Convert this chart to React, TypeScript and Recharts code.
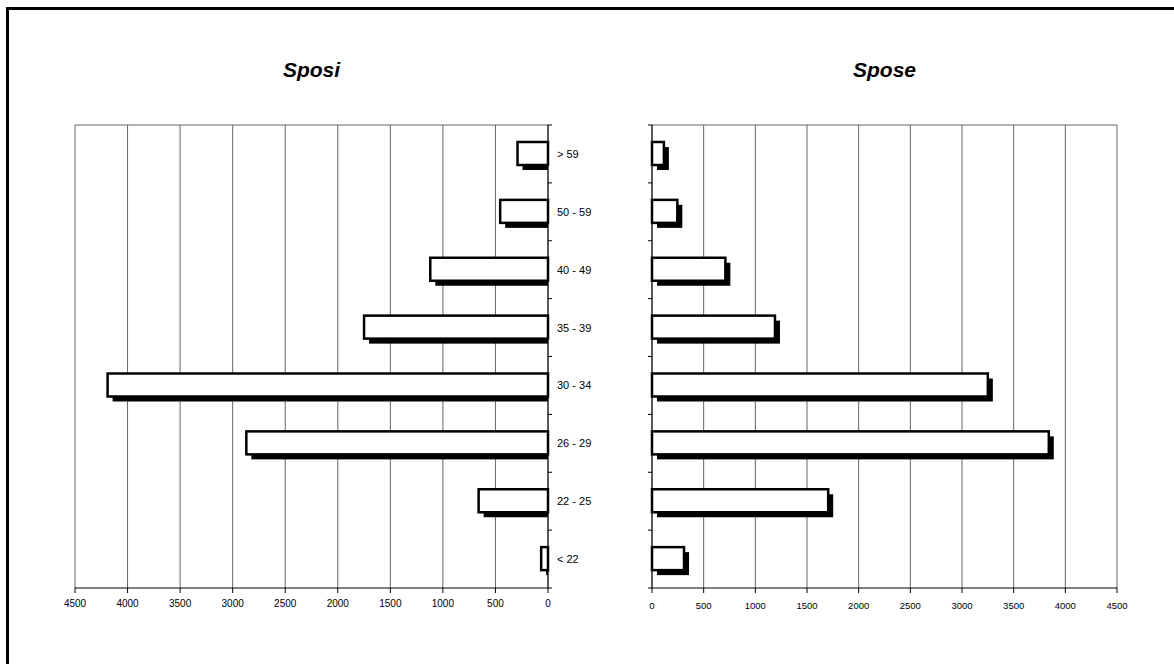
import { BarChart, Bar, XAxis, YAxis, CartesianGrid } from 'recharts';

// age groups, top to bottom
const ageGroups = ['> 59', '50 - 59', '40 - 49', '35 - 39', '30 - 34', '26 - 29', '22 - 25', '< 22'];
const sposiValues = [290, 455, 1120, 1750, 4190, 2870, 660, 65];
const sposeValues = [115, 245, 710, 1190, 3250, 3840, 1705, 310];
const xTicks = [0, 500, 1000, 1500, 2000, 2500, 3000, 3500, 4000, 4500];

const data = ageGroups.map((age, i) => ({ age, sposi: sposiValues[i], spose: sposeValues[i] }));

const FONT = '"Liberation Sans", Arial, sans-serif';
const PLOT_TOP = 125;
const PLOT_BOTTOM = 588;
const BAND = (PLOT_BOTTOM - PLOT_TOP) / ageGroups.length;
const SHADOW = 5;

const makeBarShape = (side: 'left' | 'right') => (props: any) => {
  const { x, y, width, height } = props;
  const x0 = Math.min(x, x + width);
  const w = Math.abs(width);
  const shadow =
    side === 'left' ? (
      <rect x={x0 + SHADOW} y={y + SHADOW} width={Math.max(w - SHADOW, 0)} height={height} fill="#000" />
    ) : (
      <rect x={x0 + SHADOW} y={y + SHADOW} width={w} height={height} fill="#000" />
    );
  return (
    <g>
      {shadow}
      <rect x={x0} y={y} width={w} height={height} fill="#fff" stroke="#000" strokeWidth={2.5} />
    </g>
  );
};

const makeYTick = (side: 'left' | 'right') => (props: any) => {
  const { x, y, payload, index } = props;
  const dir = side === 'left' ? 1 : -1;
  const marks = [y - BAND / 2];
  if (index === ageGroups.length - 1) marks.push(y + BAND / 2);
  return (
    <g>
      {marks.map((my, i) => (
        <line key={i} x1={x} x2={x + dir * 4} y1={my} y2={my} stroke="#000" strokeWidth={1} />
      ))}
      {side === 'left' && (
        <text x={x + 9} y={y} dy={4} fontSize={11} fill="#000" textAnchor="start" fontFamily={FONT}>
          {payload.value}
        </text>
      )}
    </g>
  );
};

const titleStyle = (center: number): React.CSSProperties => ({
  position: 'absolute',
  top: 58,
  left: center - 100,
  width: 200,
  textAlign: 'center',
  fontFamily: FONT,
  fontWeight: 'bold',
  fontStyle: 'italic',
  fontSize: 21,
  lineHeight: '24px',
  color: '#000',
});

const App = () => {
  return (
    <div style={{ position: 'absolute', left: 0, top: 0, width: 1174, height: 664, overflow: 'hidden', background: '#fff' }}>
      <div
        style={{
          position: 'absolute',
          left: 6,
          top: 7,
          width: 1200,
          height: 700,
          borderLeft: '3px solid #000',
          borderTop: '3px solid #000',
        }}
      />
      <div style={titleStyle(311.5)}>Sposi</div>
      <div style={titleStyle(884.5)}>Spose</div>

      <div style={{ position: 'absolute', left: 0, top: 0 }}>
        <BarChart
          width={640}
          height={664}
          layout="vertical"
          data={data}
          margin={{ top: PLOT_TOP, left: 75, right: 32, bottom: 46 }}
          style={{ fontFamily: FONT }}
        >
          <CartesianGrid stroke="#666" horizontalPoints={[PLOT_TOP]} />
          <XAxis
            type="number"
            domain={[0, 4500]}
            ticks={xTicks}
            reversed
            height={30}
            tickSize={5}
            tickMargin={7}
            axisLine={{ stroke: '#000' }}
            tickLine={{ stroke: '#000' }}
            tick={{ fontSize: 10, fill: '#000' }}
          />
          <YAxis
            type="category"
            dataKey="age"
            orientation="right"
            width={60}
            tickSize={0}
            tickMargin={0}
            axisLine={{ stroke: '#000' }}
            tickLine={false}
            tick={makeYTick('left')}
          />
          <Bar dataKey="sposi" barSize={23} shape={makeBarShape('left')} isAnimationActive={false} />
        </BarChart>
      </div>

      <div style={{ position: 'absolute', left: 600, top: 0 }}>
        <BarChart
          width={574}
          height={664}
          layout="vertical"
          data={data}
          margin={{ top: PLOT_TOP, left: 42, right: 57, bottom: 46 }}
          style={{ fontFamily: FONT }}
        >
          <CartesianGrid stroke="#666" horizontalPoints={[PLOT_TOP]} />
          <XAxis
            type="number"
            domain={[0, 4500]}
            ticks={xTicks}
            height={30}
            tickSize={5}
            tickMargin={9}
            axisLine={{ stroke: '#000' }}
            tickLine={{ stroke: '#000' }}
            tick={{ fontSize: 9.5, fill: '#000' }}
          />
          <YAxis
            type="category"
            dataKey="age"
            orientation="left"
            width={10}
            tickSize={0}
            tickMargin={0}
            axisLine={{ stroke: '#000' }}
            tickLine={false}
            tick={makeYTick('right')}
          />
          <Bar dataKey="spose" barSize={23} shape={makeBarShape('right')} isAnimationActive={false} />
        </BarChart>
      </div>
    </div>
  );
};

export default App;
